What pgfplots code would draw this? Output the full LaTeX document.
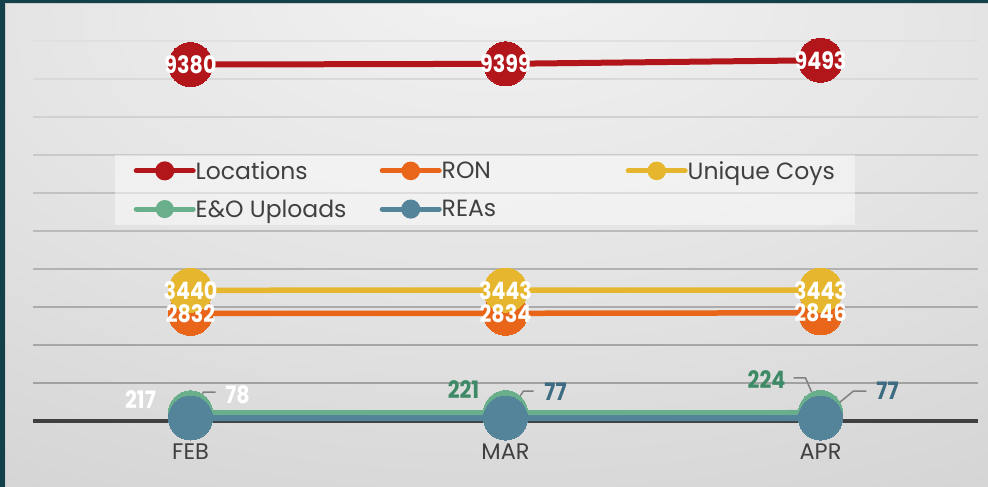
\documentclass[border=0pt]{standalone}
\usepackage{graphicx}
\usepackage{pgfplots}
\pgfplotsset{compat=1.18}
\usepackage{fontspec}
\setmainfont{Poppins}
\definecolor{cLoc}{HTML}{B3161A}
\definecolor{cRON}{HTML}{E8651A}
\definecolor{cCoy}{HTML}{E6B72E}
\definecolor{cEO}{HTML}{6AAF8C}
\definecolor{cREA}{HTML}{538499}
\definecolor{cEOt}{HTML}{3F8A66}
\definecolor{cREAt}{HTML}{3D6B82}
\definecolor{txt}{HTML}{404040}
\definecolor{bord}{HTML}{14404C}
\definecolor{bgA}{HTML}{F3F3F3}
\definecolor{bgB}{HTML}{E4E4E4}
\definecolor{bgC}{HTML}{CFCFCF}
\definecolor{bgD}{HTML}{C4C4C4}
\pgfdeclareradialshading{bgshade}{\pgfpoint{0bp}{30bp}}{color(0bp)=(bgA); color(25bp)=(bgB); color(55bp)=(bgC); color(90bp)=(bgD)}
\newcommand{\labfont}{\fontsize{24bp}{26bp}\selectfont\bfseries}
\newcommand{\legfont}{\fontsize{23.5bp}{27bp}\selectfont}
\newcommand{\legbox}[2]{\makebox[#1][l]{\rule[-7bp]{0pt}{24bp}#2}}
\pgfplotsset{
  lab/.style={forget plot, draw=none, mark=none,
    nodes near coords={\scalebox{0.86}[1]{\pgfmathprintnumber{\pgfplotspointmeta}}},
    every node near coord/.append style={anchor=center, font=\labfont}},
  labshift/.style={lab, point meta=y,
    visualization depends on={\thisrow{dx}\as\dx}, visualization depends on={\thisrow{dy}\as\dy},
    every node near coord/.append style={xshift=\dx bp, yshift=\dy bp}},
  leader/.style={forget plot, black!50, line width=1.5bp, mark=none},
}
\begin{document}
\begin{tikzpicture}
\useasboundingbox (0,0) rectangle (988bp,487bp);
\shade[shading=bgshade] (0,0) rectangle (988bp,487bp);
\fill[bord] (0,0) rectangle (5bp,487bp);
\fill[bord] (0,484bp) rectangle (988bp,487bp);
\draw[white!80!black, line width=0.8bp] (5.4bp,0) -- (5.4bp,483.6bp) -- (988bp,483.6bp);
\begin{axis}[
  at={(33bp,66bp)}, anchor=south west, scale only axis,
  width=945bp, height=380bp,
  xmin=-0.5, xmax=2.5, ymin=0, ymax=10000,
  clip=false,
  axis x line*=bottom, axis y line=none,
  x axis line style={draw=txt, line width=3bp, -},
  major tick length=0pt,
  xtick={0,1,2}, xticklabels={FEB,MAR,APR},
  ytick=\empty,
  xticklabel style={anchor=north, inner sep=0pt, yshift=-23bp, font=\fontsize{22.5bp}{26bp}\selectfont, text=txt},
  /pgf/number format/1000 sep={},
  /pgf/number format/assume math mode=true,
  legend columns=3,
  legend style={at={(0.0868,0.7)}, anchor=north west, draw=none, fill=white, fill opacity=0.45, text opacity=1,
    inner xsep=18.5bp, inner ysep=6bp, row sep=19bp, column sep=0pt, font=\legfont, text=txt,
    nodes={inner sep=0pt}},
  legend image code/.code={
    \draw[#1, line width=5bp, line cap=round, draw opacity=1] (0bp,0bp) -- (57bp,0bp);
    \fill[#1, fill opacity=1] (28.5bp,0bp) circle (6.5bp);
  },
]
% horizontal gridlines
\draw[black!37, line width=1.5bp] (axis cs:-0.5,1000) -- (axis cs:2.5,1000);
\draw[black!35, line width=1.5bp] (axis cs:-0.5,2000) -- (axis cs:2.5,2000);
\draw[black!33, line width=1.5bp] (axis cs:-0.5,3000) -- (axis cs:2.5,3000);
\draw[black!30, line width=1.5bp] (axis cs:-0.5,4000) -- (axis cs:2.5,4000);
\draw[black!27, line width=1.5bp] (axis cs:-0.5,5000) -- (axis cs:2.5,5000);
\draw[black!24, line width=1.5bp] (axis cs:-0.5,6000) -- (axis cs:2.5,6000);
\draw[black!21, line width=1.5bp] (axis cs:-0.5,7000) -- (axis cs:2.5,7000);
\draw[black!18, line width=1.5bp] (axis cs:-0.5,8000) -- (axis cs:2.5,8000);
\draw[black!15, line width=1.5bp] (axis cs:-0.5,9000) -- (axis cs:2.5,9000);
\draw[black!12, line width=1.5bp] (axis cs:-0.5,10000) -- (axis cs:2.5,10000);

\addplot[cLoc, line width=6bp, mark=*, mark size=22bp, mark options={line width=0pt, fill=cLoc}]
  coordinates {(0,9380) (1,9399) (2,9493)};
\addlegendentry{\legbox{184bp}{Locations}}
\addplot[cRON, line width=5.5bp, mark=*, mark size=22bp, mark options={line width=0pt, fill=cRON}]
  coordinates {(0,2832) (1,2834) (2,2846)};
\addlegendentry{\legbox{184bp}{RON}}
\addplot[cCoy, line width=5.5bp, mark=*, mark size=22bp, mark options={line width=0pt, fill=cCoy}]
  coordinates {(0,3440) (1,3443) (2,3443)};
\addlegendentry{\legbox{149bp}{Unique Coys}}
\addplot[cEO, line width=5bp, mark=*, mark size=22bp, mark options={line width=0pt, fill=cEO}]
  coordinates {(0,217) (1,221) (2,224)};
\addlegendentry{\legbox{184bp}{E\&O Uploads}}
\addplot[cREA, line width=6bp, mark=*, mark size=22bp, mark options={line width=0pt, fill=cREA}]
  coordinates {(0,78) (1,77) (2,77)};
\addlegendentry{\legbox{184bp}{REAs}}

% leader lines
\addplot[leader] coordinates {(0,78) (0.0413,763) (0.0794,763)};
\addplot[leader] coordinates {(1,77) (1.0571,789) (1.0889,789)};
\addplot[leader] coordinates {(1.9143,1132) (1.9524,1132) (2,224)};
\addplot[leader] coordinates {(2,77) (2.1048,789) (2.146,789)};

% data labels (centred)
\addplot[lab, every node near coord/.append style={text=white}]
  coordinates {(0,9380) (1,9399) (2,9493)};
\addplot[lab, every node near coord/.append style={text=white}]
  coordinates {(0,3440) (1,3443) (2,3443)};
\addplot[lab, every node near coord/.append style={text=white}]
  coordinates {(0,2832) (1,2834) (2,2846)};

% data labels (offset)
\addplot[labshift, every node near coord/.append style={text=white}]
  table {
x y dx dy
0 217 -50 13
0 78 47 23
};
\addplot[labshift, every node near coord/.append style={text=cEOt}]
  table {
x y dx dy
1 221 -42 22.6
2 224 -54 32.5
};
\addplot[labshift, every node near coord/.append style={text=cREAt}]
  table {
x y dx dy
1 77 50 26
2 77 67 27
};
\end{axis}
\end{tikzpicture}
\end{document}
